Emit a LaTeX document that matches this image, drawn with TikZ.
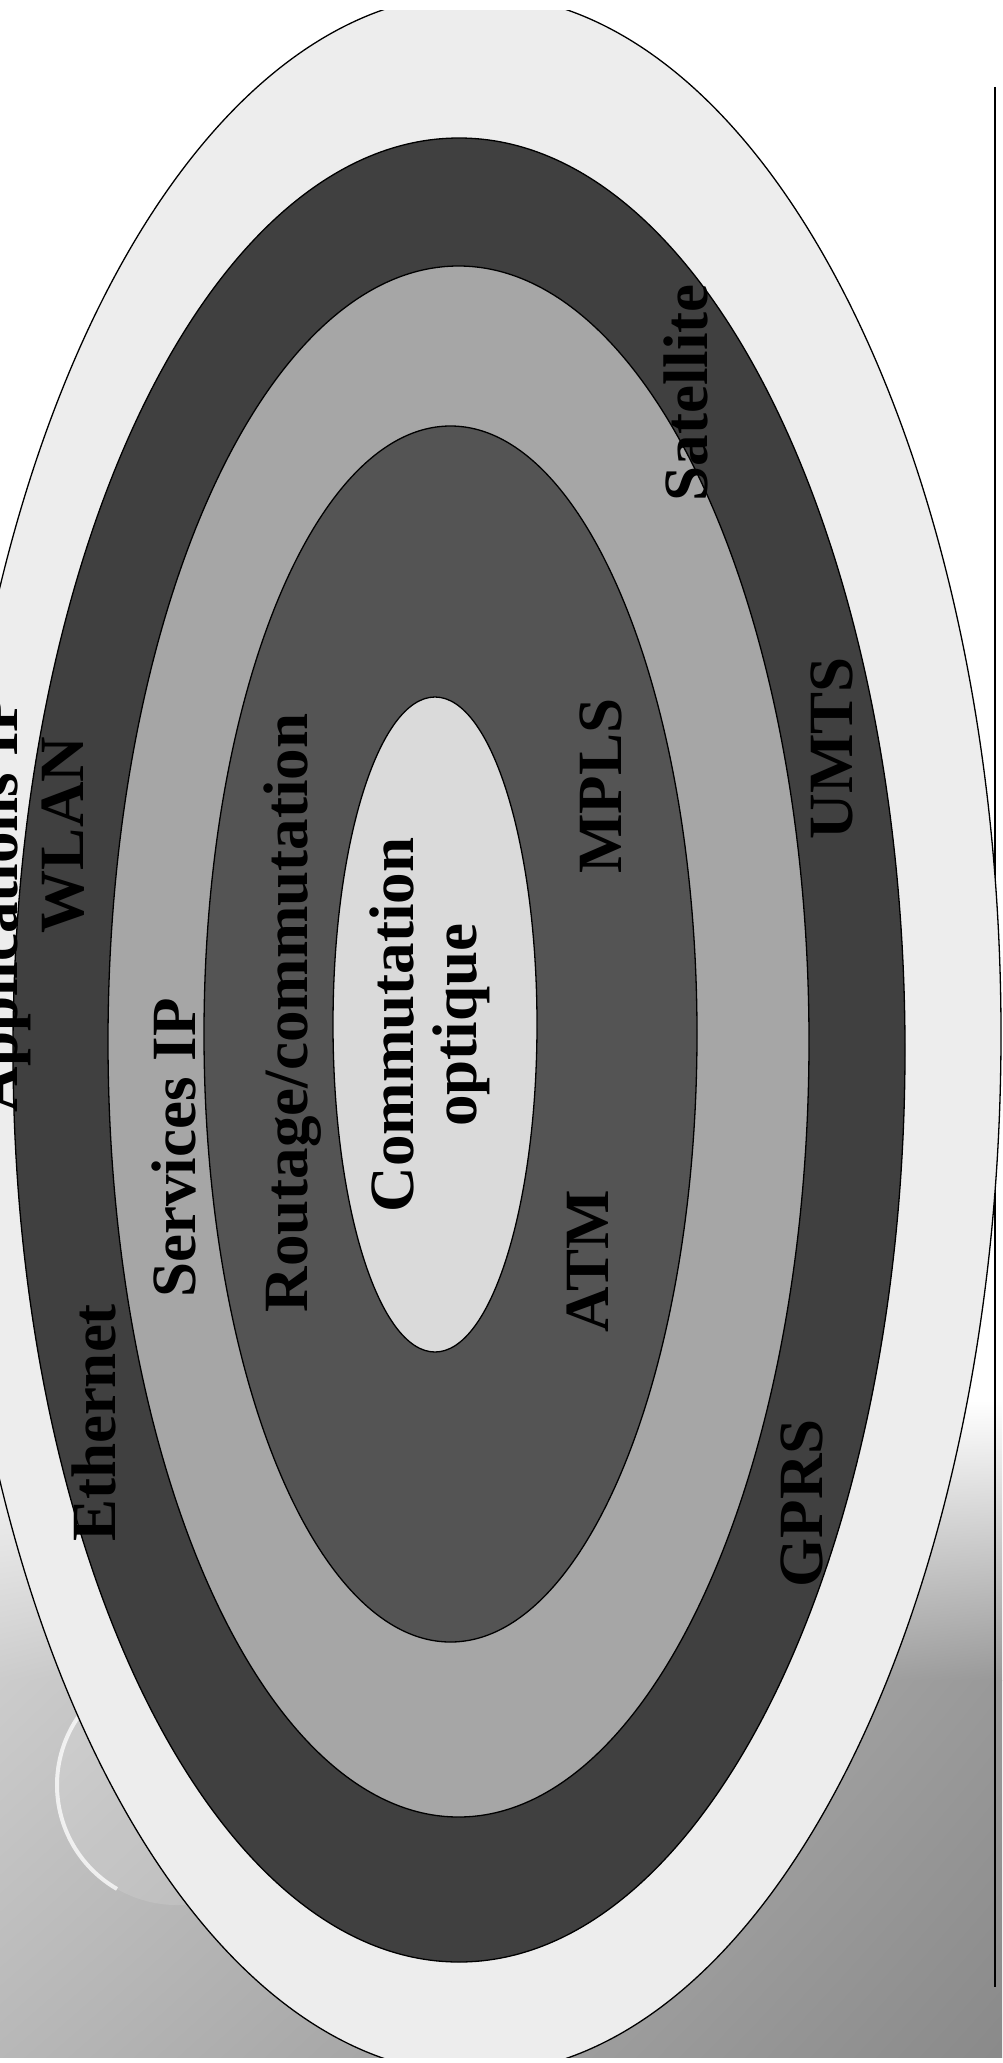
\documentclass[tikz,border=0pt]{standalone}
\usetikzlibrary{shadings}
\usepackage{fontspec}
\setmainfont{Liberation Serif}
\definecolor{cOuter}{HTML}{EDEDED}
\definecolor{cDark}{HTML}{404040}
\definecolor{cMid}{HTML}{A6A6A6}
\definecolor{cInner}{HTML}{545454}
\definecolor{cCore}{HTML}{DADADA}
\definecolor{bgA}{gray}{0.80}
\definecolor{bgB}{gray}{0.60}
\definecolor{bgC}{gray}{0.72}
\definecolor{bgD}{gray}{0.54}
\tikzset{
  ring/.style={draw=black, line width=1.3pt},
  lbl/.style={rotate=90, anchor=base, inner sep=0pt, text=black,
    font=\bfseries\fontsize{63}{64}\selectfont},
  rule/.style={draw=black, line width=2pt}
}
\begin{document}
\begin{tikzpicture}[x=1pt,y=-1pt]
\useasboundingbox (0,0) rectangle (1002,2063);
\fill[white] (0,0) rectangle (1002,2063);
\begin{scope}
\clip (0,11) rectangle (1002,2057);
% cloudy background in the lower part
\shade[upper left=white, upper right=white, lower left=bgA, lower right=bgB]
  (0,1400) rectangle (1002,1680);
\shade[upper left=bgA, upper right=bgB, lower left=bgC, lower right=bgD]
  (0,1680) rectangle (1002,2057);
% pale crescent of the background picture
\fill[white, opacity=0.12] (177,1785) circle [radius=120];
\draw[white, line width=4pt, opacity=0.75] (177,1785) ++(120:120) arc [start angle=120, end angle=235, radius=120];
% rule on the right
\coordinate (rtop) at (995,87);
\coordinate (rbot) at (995,1987);
\draw[rule] (rtop) -- (rbot);
% rings
\draw[ring, fill=cOuter] (475,1034) ellipse [x radius=526, y radius=1040];
\draw[ring, fill=cDark]  (459,1050) ellipse [x radius=446, y radius=912];
\draw[ring, fill=cMid]   (458.5,1041.5) ellipse [x radius=350.5, y radius=775.5];
\draw[ring, fill=cInner] (450.5,1034) ellipse [x radius=246.5, y radius=608];
\draw[ring, fill=cCore]  (435,1024.5) ellipse [x radius=102, y radius=327.5];
% labels
\node[lbl] (app)  at (17,903)   {Applications IP};
\node[lbl] (wlan) at (83,835)   {WLAN};
\node[lbl] (eth)  at (115,1423) {Ethernet};
\node[lbl] (sip)  at (195,1148) {Services IP};
\node[lbl] (rout) at (307,1013) {Routage/commutation};
\node[lbl] (ctr1) at (413,1025) {Commutation};
\node[lbl] (ctr2) at (476,1025) {optique};
\node[lbl] (mpls) at (621,786)  {MPLS};
\node[lbl] (atm)  at (608,1261) {ATM};
\node[lbl] (sat)  at (707,393)  {Satellite};
\node[lbl] (umts) at (852,748)  {UMTS};
\node[lbl] (gprs) at (822,1503) {GPRS};
\end{scope}
\end{tikzpicture}
\end{document}
